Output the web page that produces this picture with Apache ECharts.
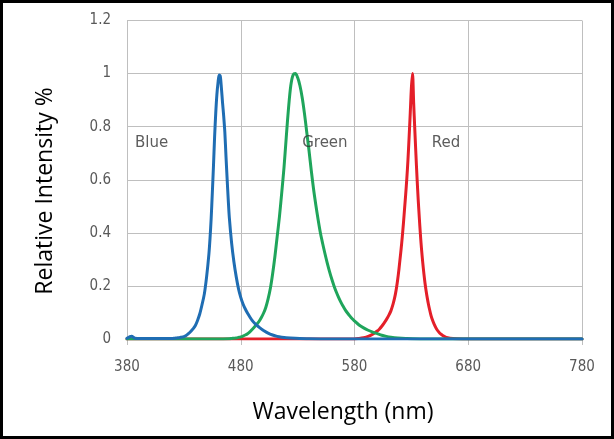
<!DOCTYPE html>
<html>
<head>
<meta charset="utf-8">
<script src="https://cdn.jsdelivr.net/npm/echarts@6/dist/echarts.min.js"></script>
<style>
  html, body { margin: 0; padding: 0; background: #ffffff; }
  #c { width: 614px; height: 439px; }
</style>
</head>
<body>
<div id="c"></div>
<script>
// ---- Data ----
const xTicks = [380, 480, 580, 680, 780];
const yTicks = [0, 0.2, 0.4, 0.6, 0.8, 1, 1.2];

const blueWavelength = [380, 384, 387, 392, 410, 420, 422, 424, 426, 428, 430, 432, 434, 436, 438, 440, 442, 444, 446, 448, 450,
  452, 453, 454, 455, 456, 457, 458, 459, 460, 461, 462, 463, 464, 465, 466, 467, 468, 469, 470,
  472, 474, 476, 478, 480, 482, 484, 486, 488, 490, 492, 494, 496, 498, 500, 504, 508, 512, 516, 520, 528, 540, 560, 780];
const blueIntensity  = [0.003, 0.01, 0.003, 0.002, 0.002, 0.002, 0.003, 0.004, 0.005, 0.007, 0.009, 0.013, 0.02, 0.028, 0.038, 0.05, 0.07, 0.095, 0.13, 0.17, 0.235,
  0.32, 0.38, 0.455, 0.55, 0.65, 0.76, 0.85, 0.92, 0.965, 0.995, 0.99, 0.945, 0.89, 0.84, 0.78, 0.69, 0.605, 0.525, 0.455,
  0.36, 0.29, 0.235, 0.19, 0.157, 0.132, 0.113, 0.097, 0.083, 0.07, 0.06, 0.052, 0.045, 0.038, 0.032, 0.022, 0.015, 0.01, 0.007, 0.005, 0.003, 0.001, 0, 0];

const greenWavelength = [380, 460, 470, 472, 474, 476, 478, 480, 482, 484, 486, 488, 490, 492, 494, 496, 498, 500, 502, 504, 506, 508, 510,
  512, 514, 516, 518, 520, 522, 524, 526, 528, 530, 532, 534, 536, 538, 540, 542, 544, 546, 548, 550, 552, 554, 556, 558, 560,
  562, 564, 566, 568, 570, 572, 574, 576, 578, 580, 584, 588, 592, 596, 600, 604, 608, 612, 618, 625, 640, 780];
const greenIntensity  = [0, 0, 0.001, 0.002, 0.003, 0.004, 0.006, 0.008, 0.011, 0.015, 0.02, 0.027, 0.036, 0.045, 0.055, 0.066, 0.08, 0.097, 0.119, 0.15, 0.19, 0.245, 0.31,
  0.385, 0.46, 0.55, 0.645, 0.76, 0.87, 0.955, 0.995, 1.0, 0.985, 0.955, 0.91, 0.85, 0.78, 0.71, 0.635, 0.565, 0.505, 0.45, 0.4, 0.36, 0.322, 0.287, 0.255, 0.226,
  0.2, 0.177, 0.157, 0.139, 0.123, 0.109, 0.097, 0.086, 0.076, 0.068, 0.053, 0.042, 0.033, 0.026, 0.02, 0.014, 0.01, 0.007, 0.004, 0.002, 0, 0];

const redWavelength = [380, 580, 584, 588, 592, 596, 600, 602, 604, 606, 608, 610, 612,
  614, 615, 616, 617, 618, 619, 620, 621, 622, 623, 624, 625, 626, 627, 628, 629, 630, 631, 632, 633, 634, 635, 636, 637, 638,
  639, 640, 641, 642, 643, 644, 645, 646, 647, 648, 650, 652, 654, 656, 658, 660, 664, 670, 680, 780];
const redIntensity  = [0, 0, 0.002, 0.005, 0.01, 0.018, 0.03, 0.038, 0.048, 0.06, 0.073, 0.088, 0.106,
  0.133, 0.15, 0.17, 0.195, 0.225, 0.26, 0.3, 0.34, 0.385, 0.435, 0.49, 0.545, 0.605, 0.675, 0.76, 0.85, 0.945, 1.0, 0.89, 0.79, 0.695, 0.605, 0.525, 0.455, 0.39,
  0.335, 0.288, 0.246, 0.21, 0.18, 0.154, 0.131, 0.111, 0.093, 0.078, 0.056, 0.039, 0.027, 0.018, 0.012, 0.007, 0.003, 0.001, 0, 0];

const seriesNames  = ['Blue', 'Green', 'Red'];
const labelX       = [387, 534, 648];
const labelY       = [0.737, 0.737, 0.737];

const xTitle = 'Wavelength (nm)';
const yTitle = 'Relative Intensity %';

// ---- Build chart ----
function pairs(xs, ys) { return xs.map((x, i) => [x, ys[i]]); }

const colors = { Blue: '#1F6DB3', Green: '#1FA55B', Red: '#E41F29' };
const gridColor = '#BFBFBF';
const tickFont = "'DejaVu Sans Condensed', 'Liberation Sans Narrow', 'DejaVu Sans', sans-serif";

const chart = echarts.init(document.getElementById('c'), null, { renderer: 'canvas' });

function lineSeries(name, xs, ys) {
  return {
    name: name, type: 'line', data: pairs(xs, ys),
    showSymbol: false, smooth: 0.3,
    lineStyle: { color: colors[name], width: 3, join: 'round', cap: 'round' },
    itemStyle: { color: colors[name] }
  };
}

chart.setOption({
  animation: false,
  backgroundColor: '#ffffff',
  grid: { left: 127, right: 32, top: 20.5, bottom: 100, containLabel: false },
  xAxis: {
    type: 'value',
    min: xTicks[0],
    max: xTicks[xTicks.length - 1],
    interval: xTicks[1] - xTicks[0],
    axisLine: { show: false },
    axisTick: { show: true, length: 6, lineStyle: { color: gridColor, width: 1 } },
    splitLine: { show: true, lineStyle: { color: gridColor, width: 1 } },
    axisLabel: { color: '#595959', fontSize: 15, fontFamily: tickFont, margin: 21 }
  },
  yAxis: {
    type: 'value',
    min: yTicks[0],
    max: yTicks[yTicks.length - 1],
    interval: yTicks[1] - yTicks[0],
    axisLine: { show: false },
    axisTick: { show: false },
    splitLine: { show: true, lineStyle: { color: gridColor, width: 1 } },
    axisLabel: { color: '#595959', fontSize: 15, fontFamily: tickFont, margin: 16 }
  },
  graphic: [
    {
      type: 'rect', silent: true, z: 100,
      shape: { x: 1.5, y: 1.5, width: 611, height: 436 },
      style: { fill: 'none', stroke: '#000000', lineWidth: 3 }
    },
    {
      type: 'text', silent: true,
      x: 343, y: 412,
      style: { text: xTitle, fill: '#000000', font: "23px 'Open Sans'", textAlign: 'center', textVerticalAlign: 'middle' }
    },
    {
      type: 'text', silent: true,
      x: 45, y: 191, rotation: Math.PI / 2,
      style: { text: yTitle, fill: '#000000', font: "23px 'Open Sans'", textAlign: 'center', textVerticalAlign: 'middle' }
    }
  ],
  series: [
    lineSeries('Red', redWavelength, redIntensity),
    lineSeries('Green', greenWavelength, greenIntensity),
    lineSeries('Blue', blueWavelength, blueIntensity),
    {
      name: 'labels', type: 'scatter', symbolSize: 0, z: 10,
      data: seriesNames.map((n, i) => [labelX[i], labelY[i], n]),
      label: {
        show: true, position: 'right', distance: 0,
        formatter: p => p.data[2],
        color: '#333333', fontSize: 15, fontFamily: "'DejaVu Sans', sans-serif"
      }
    }
  ]
});
</script>
</body>
</html>
